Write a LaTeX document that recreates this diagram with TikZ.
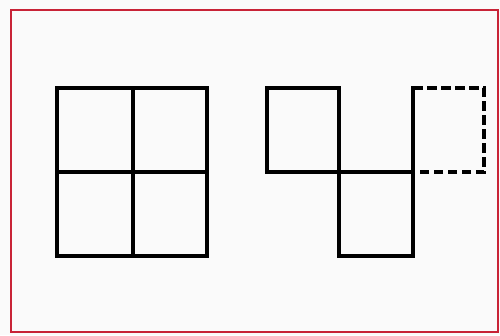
\documentclass[tikz,border=0pt]{standalone}
\definecolor{frame}{RGB}{200,35,55}
\definecolor{paper}{RGB}{250,250,250}
\tikzset{
  solidline/.style={line width=3.3pt, line cap=rect, line join=miter},
  dashline/.style={line width=3.3pt, dash pattern=on 9.5pt off 4.5pt},
}
\begin{document}
\begin{tikzpicture}[x=1pt,y=-1pt]
\useasboundingbox (0,0) rectangle (500,335);
\fill[paper] (0,0) rectangle (500,335);
\draw[frame, line width=2.4pt] (11,10) rectangle (498,332);
% left 2x2 grid
\draw[solidline] (57,88) rectangle (207,256);
\draw[solidline] (133,88) -- (133,256);
\draw[solidline] (57,172) -- (207,172);
% right figure
\draw[solidline] (267,88) rectangle (339,172);
\draw[solidline] (339,172) rectangle (413,256);
\draw[solidline] (413,172) -- (413,88);
\draw[dashline] (413,88) -- (484,88) -- (484,172) -- (413,172);
\end{tikzpicture}
\end{document}
